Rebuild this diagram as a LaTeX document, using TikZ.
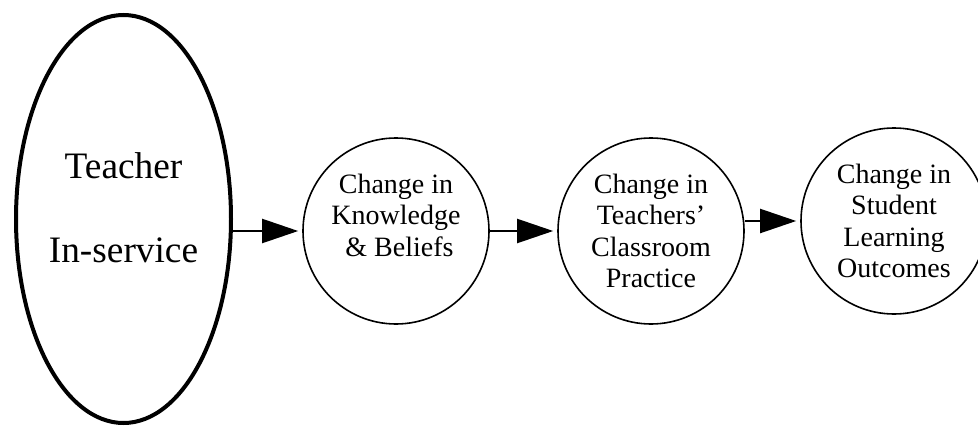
\documentclass[tikz,border=0pt]{standalone}
\usepackage{fontspec}
\setmainfont{Liberation Serif}
\usetikzlibrary{arrows.meta,shapes.geometric}
\begin{document}
\begin{tikzpicture}[x=0.75pt,y=-0.75pt,
  bigell/.style={draw, ellipse, line width=3pt, minimum width=161.25pt,
    minimum height=306pt, inner sep=0pt, align=center,
    font=\fontsize{28}{63}\selectfont, text depth=17pt},
  stage/.style={draw, circle, line width=1.2pt, minimum size=139.5pt,
    inner sep=0pt, align=center, font=\fontsize{21}{23.6}\selectfont},
  flow/.style={line width=1.5pt, -{Triangle[length=27pt,width=18pt]},
    shorten >=3pt}]
\useasboundingbox (0,0) rectangle (978,425);
\node[bigell] (ell) at (123.5,219) {Teacher\\In-service};
\node[stage] (c1) at (396,231) {Change in\\Knowledge\\\ \& Beliefs\\\mbox{}};
\node[stage] (c2) at (651,231) {Change in\\Teachers’\\Classroom\\Practice};
\node[stage] (c3) at (894,221) {Change in\\Student\\Learning\\Outcomes};
\draw[flow] (ell.east |- c1.west) -- (c1.west);
\draw[flow] (c1.east) -- (c2.west);
\draw[flow] (c2.east |- c3.west) -- (c3.west);
\end{tikzpicture}
\end{document}
